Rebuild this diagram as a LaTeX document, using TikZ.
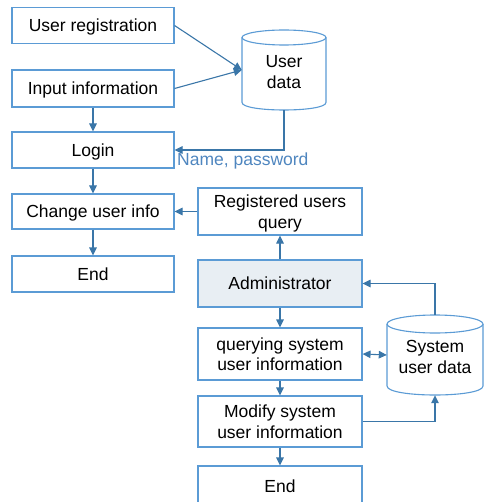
\documentclass[tikz,border=0pt]{standalone}
\usepackage{fontspec}
\setmainfont{Liberation Sans}
\usetikzlibrary{arrows.meta}
\definecolor{boxline}{HTML}{5B9BD5}
\definecolor{arrline}{HTML}{3A76A8}
\definecolor{adminfill}{HTML}{E8EEF3}
\definecolor{labelblue}{HTML}{4F86BF}
\tikzset{
  stepbox/.style={draw=boxline, line width=1.1pt, fill=white, align=center,
    inner sep=2pt, text depth=0pt, font=\fontsize{17.5}{20.5}\selectfont},
  arr/.style={draw=arrline, line width=1.1pt, -{Triangle[length=8pt,width=7.5pt]}},
  darr/.style={draw=arrline, line width=1.1pt, {Triangle[length=8pt,width=7.5pt]}-{Triangle[length=8pt,width=7.5pt]}},
  dbline/.style={draw=boxline, line width=1.1pt, fill=white},
  dbtext/.style={align=center, inner sep=0pt, font=\fontsize{17.5}{21}\selectfont},
}
\begin{document}
\begin{tikzpicture}[x=1pt,y=-1pt]
\useasboundingbox (0,0) rectangle (485,502);
\clip (0,0) rectangle (485,502);

% left column: user side
\node[stepbox, minimum width=162pt, minimum height=36pt] (reg)    at (93,25.5)  {User registration};
\node[stepbox, minimum width=162pt, minimum height=37pt] (input)  at (93,88.5)  {Input information};
\node[stepbox, minimum width=162pt, minimum height=36pt] (login)  at (93,150)   {Login};
\node[stepbox, minimum width=162pt, minimum height=35pt] (change) at (93,211.5) {Change user info};
\node[stepbox, minimum width=162pt, minimum height=36pt] (endA)   at (93,274)   {End};

% right column: administrator side
\node[stepbox, minimum width=164pt, minimum height=47pt] (regq)   at (280,211.5) {Registered users\\query};
\node[stepbox, fill=adminfill, minimum width=164pt, minimum height=47pt] (admin) at (280,283.5) {Administrator};
\node[stepbox, minimum width=164pt, minimum height=52pt] (query)  at (280,354)   {querying system\\user information};
\node[stepbox, minimum width=164pt, minimum height=51pt] (modify) at (280,421.5) {Modify system\\user information};
\node[stepbox, minimum width=164pt, minimum height=40pt] (endB)   at (280,486)   {End};

% user data store
\path[dbline] (242,37.5) -- (242,102.5)
  .. controls (242,112.5) and (326,112.5) .. (326,102.5) -- (326,37.5);
\draw[dbline] (284,37.5) ellipse [x radius=42pt, y radius=7.5pt];
\node[inner sep=0pt, minimum width=84pt, minimum height=80pt] (ud) at (284,70) {};
\node[dbtext] (udtext) at (284,72) {User\\data};

% system user data store
\path[dbline] (387,324) -- (387,386)
  .. controls (387,398) and (483,398) .. (483,386) -- (483,324);
\draw[dbline] (435,324) ellipse [x radius=48pt, y radius=9pt];
\node[inner sep=0pt, minimum width=96pt, minimum height=80pt] (sud) at (435,355) {};
\node[dbtext] (sudtext) at (435,356.5) {System\\user data};

% connectors
\draw[arr] (reg.east) -- (ud.west);
\draw[arr] (input.east) -- (ud.west);
\draw[arr] (input) -- (login);
\draw[arr] (login) -- (change);
\draw[arr] (change) -- (endA);
\draw[arr] (ud.south) |- (login.east);
\node[text=labelblue, font=\fontsize{17.5}{20}\selectfont, anchor=base west, inner sep=0pt] (np) at (177,166) {Name, password};

\draw[arr] (admin) -- (regq);
\draw[arr] (regq.west) -- (change.east);
\draw[arr] (admin) -- (query);
\draw[darr] (query.east) -- (sud.west);
\draw[arr] (query) -- (modify);
\draw[arr] (modify) -- (endB);
\draw[arr] (modify.east) -| (sud.south);
\draw[arr] (sud.north) |- (admin.east);
\end{tikzpicture}
\end{document}
